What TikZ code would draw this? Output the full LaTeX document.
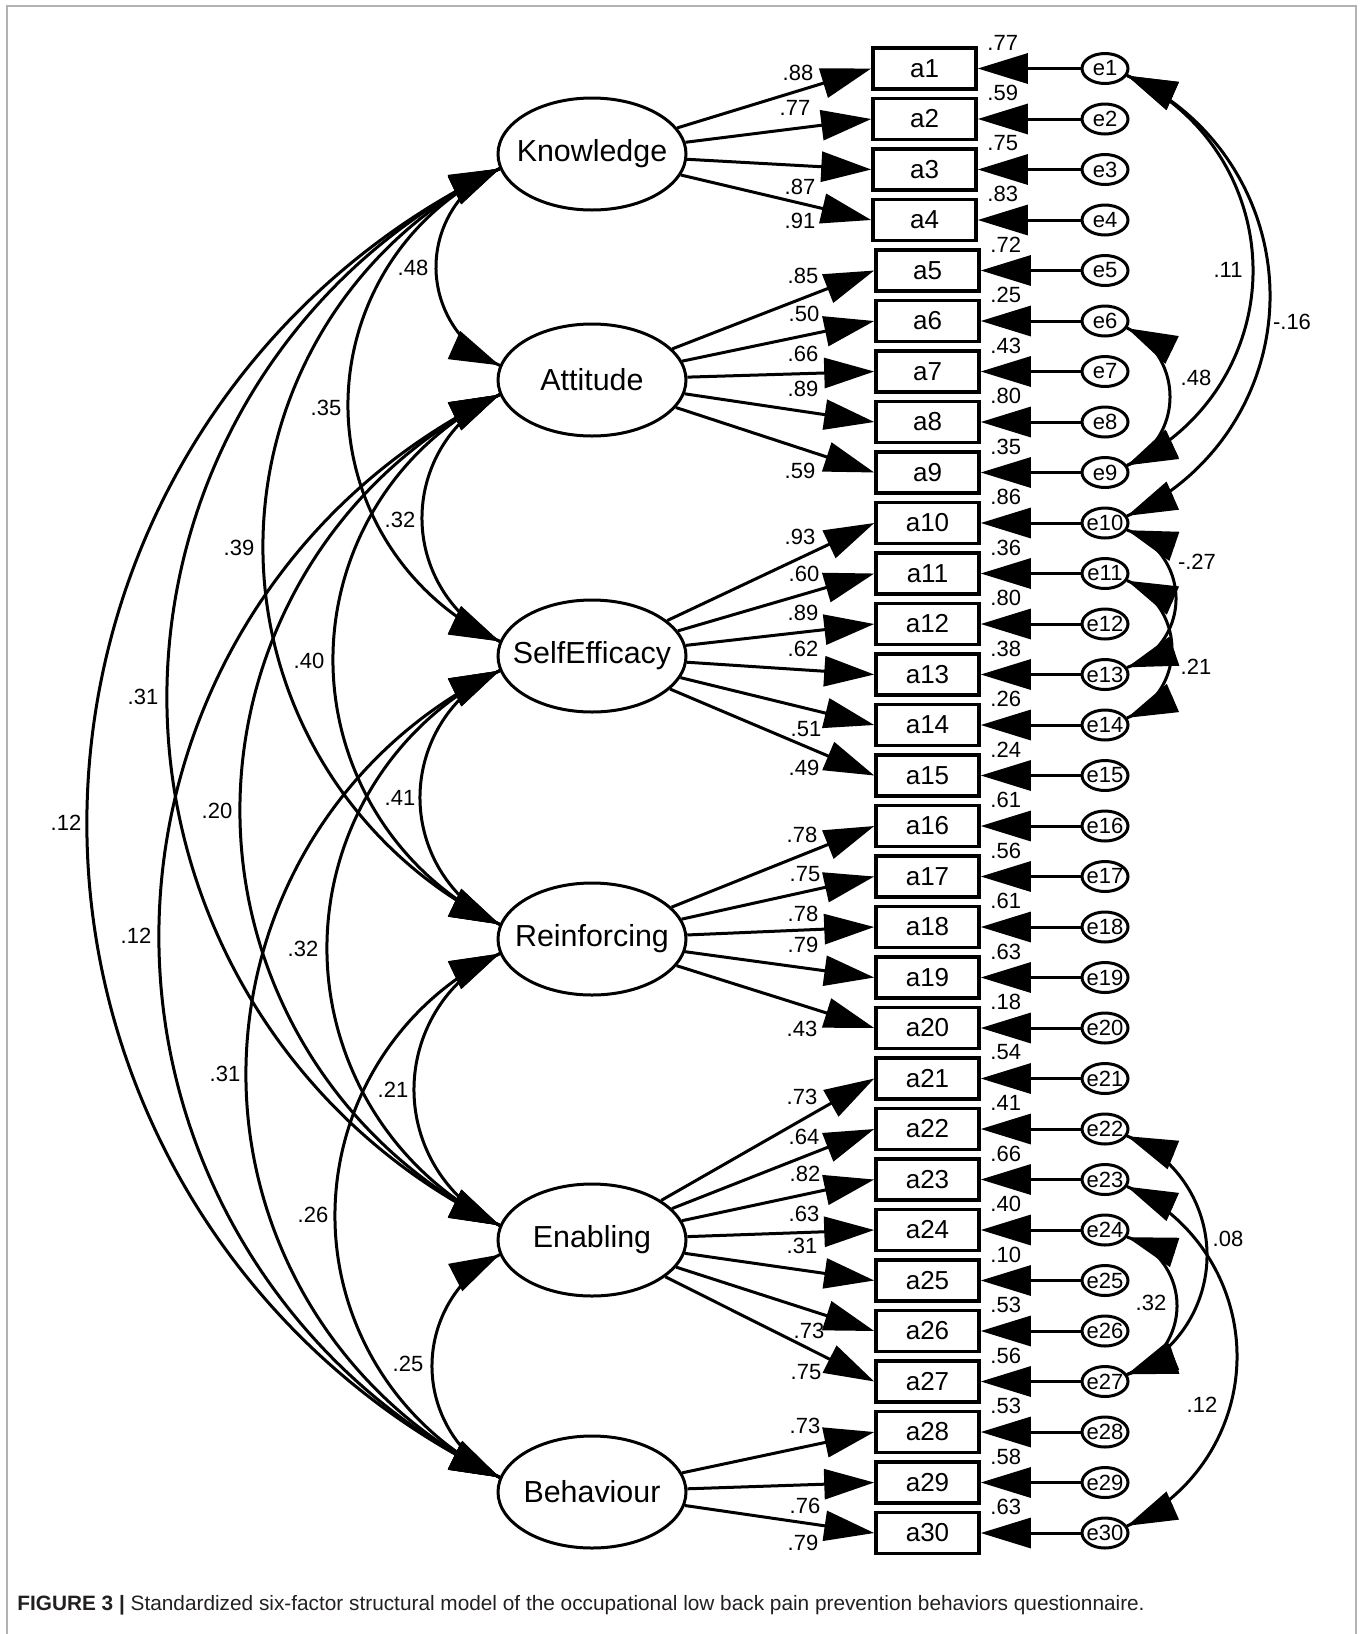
\documentclass[tikz,border=0pt]{standalone}
\usepackage{fontspec}
\setmainfont{Liberation Sans}
\usetikzlibrary{arrows.meta,shapes.geometric}
\definecolor{captxt}{HTML}{231F20}
\tikzset{bigtri/.tip={Triangle[length=25pt,width=15pt]}}
\newcommand\rowy[1]{68.5+(#1-1)*50.5}
% left covariance arc (circular) between latent nodes
\newcommand\lcov[5]{%
  \pgfmathsetmacro\yo{#3+14.5}%
  \pgfmathsetmacro\hh{(#4-#3-29)/2}%
  \pgfmathsetmacro\yt{\yo+2*\hh}%
  \pgfmathsetmacro\dd{500-#5}%
  \pgfmathsetmacro\RR{\dd/2+(\hh/2)*(\hh/\dd)}%
  \pgfmathsetmacro\ps{2*atan(\dd/\hh)}%
  \pgfmathsetmacro\qx{500+50*cos(90+\ps)}%
  \pgfmathsetmacro\qy{\yo+50*sin(90+\ps)}%
  \pgfmathsetmacro\wx{500+50*cos(270-\ps)}%
  \pgfmathsetmacro\wy{\yt+50*sin(270-\ps)}%
  \draw[covline] (500,\yo) arc[start angle=180+\ps, end angle=180-\ps, radius=\RR];%
  \draw[tipseg] (\qx,\qy) -- (#1.189);%
  \draw[tipseg] (\wx,\wy) -- (#2.171);%
}
% right covariance arc (circular) between error nodes (by index)
\newcommand\rcov[3]{%
  \pgfmathsetmacro\yu{\rowy{#1}}%
  \pgfmathsetmacro\yl{\rowy{#2}}%
  \pgfmathsetmacro\yo{\yu+7}%
  \pgfmathsetmacro\hh{(\yl-\yu-14)/2}%
  \pgfmathsetmacro\yt{\yo+2*\hh}%
  \pgfmathsetmacro\dd{#3-1127}%
  \pgfmathsetmacro\RR{\dd/2+(\hh/2)*(\hh/\dd)}%
  \pgfmathsetmacro\ps{2*atan(\dd/\hh)}%
  \pgfmathsetmacro\qx{1127+50*cos(90-\ps)}%
  \pgfmathsetmacro\qy{\yo+50*sin(90-\ps)}%
  \pgfmathsetmacro\wx{1127+50*cos(\ps-90)}%
  \pgfmathsetmacro\wy{\yt+50*sin(\ps-90)}%
  \draw[covline] (1127,\yo) arc[start angle=-\ps, end angle=\ps, radius=\RR];%
  \draw[tipseg] (\qx,\qy) -- (e#1.-18);%
  \draw[tipseg] (\wx,\wy) -- (e#2.18);%
}
\begin{document}
\begin{tikzpicture}[x=0.5pt,y=-0.5pt,
  latent/.style={ellipse,draw,line width=1.5pt,minimum width=94pt,minimum height=56pt,inner sep=0pt},
  latlab/.style={font=\fontsize{15.2}{15.2}\selectfont,inner sep=0pt},
  obs/.style={rectangle,draw,line width=1.75pt,minimum width=51.5pt,minimum height=20.5pt,inner sep=0pt,font=\fontsize{13}{13}\selectfont},
  errv/.style={ellipse,draw,line width=1.5pt,minimum width=23pt,minimum height=15pt,inner sep=0pt},
  errlab/.style={font=\fontsize{11}{11}\selectfont,inner sep=0pt},
  load/.style={line width=1.5pt,-bigtri},
  earrow/.style={line width=1.5pt,-bigtri},
  covline/.style={line width=1.5pt},
  tipseg/.style={line width=1.5pt,-bigtri},
  val/.style={font=\fontsize{11}{11}\selectfont,inner sep=0pt}]
\useasboundingbox (0,0) rectangle (1363,1634);
% frame
\draw[gray!60,line width=0.75pt] (7,1640) -- (7,6) -- (1356,6) -- (1356,1640);

% latent factors
\node[latent,label={[latlab]center:Knowledge}] (Kn) at (592,154) {};
\node[latent,label={[latlab]center:Attitude}] (At) at (592,380) {};
\node[latent,label={[latlab]center:SelfEfficacy}] (SE) at (592,656) {};
\node[latent,label={[latlab]center:Reinforcing}] (Re) at (592,939) {};
\node[latent,label={[latlab]center:Enabling}] (En) at (592,1240) {};
\node[latent,label={[latlab]center:Behaviour}] (Be) at (592,1492) {};

% observed items and errors
\foreach \i in {1,...,30} {
  \pgfmathsetmacro\yy{\rowy{\i}}
  \ifnum\i<5 \def\bx{924.5}\else\def\bx{927.5}\fi
  \node[obs] (a\i) at (\bx,\yy) {a\i};
  \node[errv,label={[errlab]center:e\i}] (e\i) at (1105,\yy) {};
  \draw[earrow] (e\i) -- (a\i.east);
}

% R-squared labels
\foreach \i/\v in {1/.77,2/.59,3/.75,4/.83,5/.72,6/.25,7/.43,8/.80,9/.35,10/.86,
  11/.36,12/.80,13/.38,14/.26,15/.24,16/.61,17/.56,18/.61,19/.63,20/.18,
  21/.54,22/.41,23/.66,24/.40,25/.10,26/.53,27/.56,28/.53,29/.58,30/.63}
  \node[val] (r\i) at ([xshift=12.5pt,yshift=13pt]a\i.east) {\v};

% loadings
\foreach \f/\lo/\hi in {Kn/1/4,At/5/9,SE/10/15,Re/16/20,En/21/27,Be/28/30}
  \foreach \i in {\lo,...,\hi}
    \draw[load] (\f) -- (a\i.west);

% loading labels
\foreach \px/\py/\v [count=\n] in {798/73/.88,795/108/.77,800/187/.87,800/221/.91,
  803/276/.85,804/314/.50,803/354/.66,803/389/.89,800/471/.59,
  800/537/.93,804/574/.60,803/613/.89,803/649/.62,806/729/.51,804/768/.49,
  802/835/.78,805/874/.75,803/914/.78,803/945/.79,802/1029/.43,
  802/1097/.73,804/1137/.64,805/1174/.82,804/1214/.63,802/1246/.31,809/1331/.73,806/1372/.75,
  805/1426/.73,805/1506/.76,803/1543/.79}
  \node[val] (ld\n) at (\px,\py) {\v};

% factor covariances
\lcov{Kn}{At}{154}{380}{436}
\lcov{At}{SE}{380}{656}{422}
\lcov{SE}{Re}{656}{939}{420}
\lcov{Re}{En}{939}{1240}{414}
\lcov{En}{Be}{1240}{1492}{432}
\lcov{Kn}{SE}{154}{656}{348}
\lcov{At}{Re}{380}{939}{333}
\lcov{SE}{En}{656}{1240}{327}
\lcov{Re}{Be}{939}{1492}{335}
\lcov{Kn}{Re}{154}{939}{263}
\lcov{At}{En}{380}{1240}{240}
\lcov{SE}{Be}{656}{1492}{246}
\lcov{Kn}{En}{154}{1240}{167}
\lcov{At}{Be}{380}{1492}{159}
\lcov{Kn}{Be}{154}{1492}{87}

\foreach \px/\py/\v [count=\n] in {413/268/.48,400/520/.32,400/798/.41,393/1090/.21,408/1364/.25,
  326/408/.35,309/661/.40,303/949/.32,313/1215/.26,
  239/548/.39,217/811/.20,225/1074/.31,
  143/697/.31,136/936/.12,66/823/.12}
  \node[val] (lc\n) at (\px,\py) {\v};

% error covariances
\rcov{1}{9}{1253}
\rcov{1}{10}{1270}
\rcov{6}{9}{1170}
\rcov{10}{13}{1176}
\rcov{11}{14}{1172}
\rcov{22}{27}{1207}
\rcov{24}{27}{1177}
\rcov{23}{30}{1237}

\foreach \px/\py/\v [count=\n] in {1228/270/.11,1292/322/-.16,1196/378/.48,1197/562/-.27,
  1196/667/.21,1228/1239/.08,1151/1303/.32,1202/1405/.12}
  \node[val] (rc\n) at (\px,\py) {\v};

% caption
\node[anchor=west,inner sep=0pt,text=captxt,font=\fontsize{10.4}{12}\selectfont] (cap) at (17,1605)
  {\textbf{FIGURE 3 |} Standardized six-factor structural model of the occupational low back pain prevention behaviors questionnaire.};
\end{tikzpicture}
\end{document}
